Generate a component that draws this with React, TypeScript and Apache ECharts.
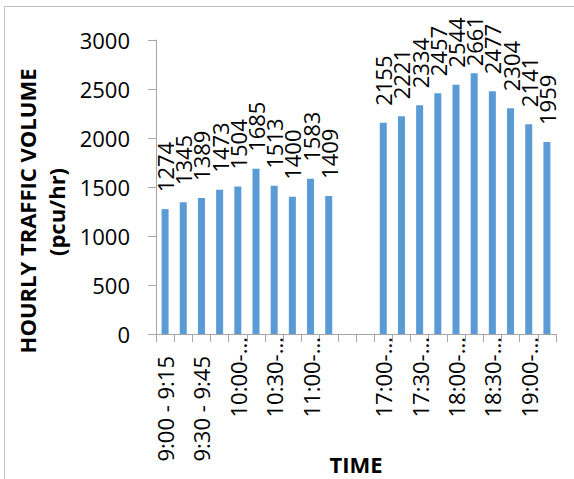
import React, { useEffect, useRef } from "react";
import * as echarts from "echarts";

// Fifteen-minute counting intervals, morning and evening peaks
const morningSlots = [
  "9:00 - 9:15", "9:15 - 9:30", "9:30 - 9:45", "9:45 - 10:00",
  "10:00 - 10:15", "10:15 - 10:30", "10:30 - 10:45", "10:45 - 11:00",
  "11:00 - 11:15", "11:15 - 11:30",
];
const eveningSlots = [
  "17:00 - 17:15", "17:15 - 17:30", "17:30 - 17:45", "17:45 - 18:00",
  "18:00 - 18:15", "18:15 - 18:30", "18:30 - 18:45", "18:45 - 19:00",
  "19:00 - 19:15", "19:15 - 19:30",
];

// Hourly traffic volume (pcu/hr)
const morningVolume = [1274, 1345, 1389, 1473, 1504, 1685, 1513, 1400, 1583, 1409];
const eveningVolume = [2155, 2221, 2334, 2457, 2544, 2661, 2477, 2304, 2141, 1959];

// Two blank slots separate the two peaks
const gapSlots = ["", ""];

const yTicks = { min: 0, max: 3000, interval: 500 };

const FONT = "Open Sans";
const BAR_COLOR = "#5B9BD5";
const AXIS_COLOR = "#A6A6A6";
const LABEL_DISTANCE = 17;
const LABEL_TOP_LIMIT = 16; // value labels are kept inside the chart frame

export default function App() {
  const ref = useRef<HTMLDivElement>(null);

  useEffect(() => {
    if (!ref.current) return;
    const chart = echarts.init(ref.current, undefined, { renderer: "svg" });

    const categories = [...morningSlots, ...gapSlots, ...eveningSlots];
    const values = [...morningVolume, ...gapSlots.map(() => null), ...eveningVolume];

    chart.setOption({
      animation: false,
      backgroundColor: "#ffffff",
      textStyle: { fontFamily: FONT },
      grid: { left: 156, top: 40, right: 18, bottom: 145, containLabel: false },
      xAxis: {
        type: "category",
        data: categories,
        boundaryGap: true,
        axisLine: { lineStyle: { color: AXIS_COLOR, width: 1 } },
        axisTick: { show: true, interval: 0, length: 8, lineStyle: { color: AXIS_COLOR } },
        axisLabel: {
          interval: 1,
          rotate: 90,
          margin: 3,
          color: "#000",
          fontFamily: FONT,
          fontSize: 22,
          formatter: (name: string) => {
            if (!name) return "";
            if (name.length > 11) return `{cut|${name.split(" ")[0]}-...}`;
            return `{full|${name}}`;
          },
          rich: {
            full: { fontFamily: FONT, fontSize: 22, color: "#000", padding: [0, 19, 0, 0] },
            cut: { fontFamily: FONT, fontSize: 22, color: "#000" },
          },
        },
        splitLine: { show: false },
      },
      yAxis: {
        type: "value",
        min: yTicks.min,
        max: yTicks.max,
        interval: yTicks.interval,
        axisLine: { show: true, lineStyle: { color: AXIS_COLOR, width: 1 } },
        axisTick: { show: true, length: 8, lineStyle: { color: AXIS_COLOR } },
        axisLabel: {
          margin: 26,
          color: "#000",
          fontFamily: FONT,
          fontSize: 22,
          formatter: (v: number) => String(v),
        },
        splitLine: { show: false },
      },
      series: [
        {
          type: "bar",
          data: values,
          barWidth: 7,
          itemStyle: { color: BAR_COLOR },
          label: {
            show: true,
            position: "top",
            distance: LABEL_DISTANCE,
            rotate: 90,
            align: "left",
            verticalAlign: "middle",
            color: "#000",
            fontFamily: FONT,
            fontSize: 22,
          },
          labelLayout: (params: any) => {
            const r = params.rect;
            const lr = params.labelRect;
            const shift = Math.max(0, LABEL_TOP_LIMIT - lr.y);
            return {
              x: r.x + r.width / 2,
              y: r.y - LABEL_DISTANCE + shift,
            };
          },
        },
      ],
      graphic: [
        {
          type: "rect",
          silent: true,
          z: -1,
          shape: { x: 4.5, y: 6.5, width: 700, height: 700 },
          style: { fill: "none", stroke: "#BFBFBF", lineWidth: 1 },
        },
        {
          type: "text",
          x: 27,
          y: 211,
          rotation: Math.PI / 2,
          style: {
            text: "HOURLY TRAFFIC VOLUME",
            fill: "#000",
            fontFamily: FONT,
            fontWeight: "bold",
            fontSize: 22,
            align: "center",
            verticalAlign: "middle",
          },
        },
        {
          type: "text",
          x: 56,
          y: 212,
          rotation: Math.PI / 2,
          style: {
            text: "(pcu/hr)",
            fill: "#000",
            fontFamily: FONT,
            fontWeight: "bold",
            fontSize: 22,
            align: "center",
            verticalAlign: "middle",
          },
        },
        {
          type: "text",
          x: 356,
          y: 464,
          style: {
            text: "TIME",
            fill: "#000",
            fontFamily: FONT,
            fontWeight: "bold",
            fontSize: 22,
            align: "center",
            verticalAlign: "middle",
          },
        },
      ],
    });

    return () => chart.dispose();
  }, []);

  return (
    <div
      ref={ref}
      style={{ position: "absolute", left: 0, top: 0, width: 574, height: 479 }}
    />
  );
}
